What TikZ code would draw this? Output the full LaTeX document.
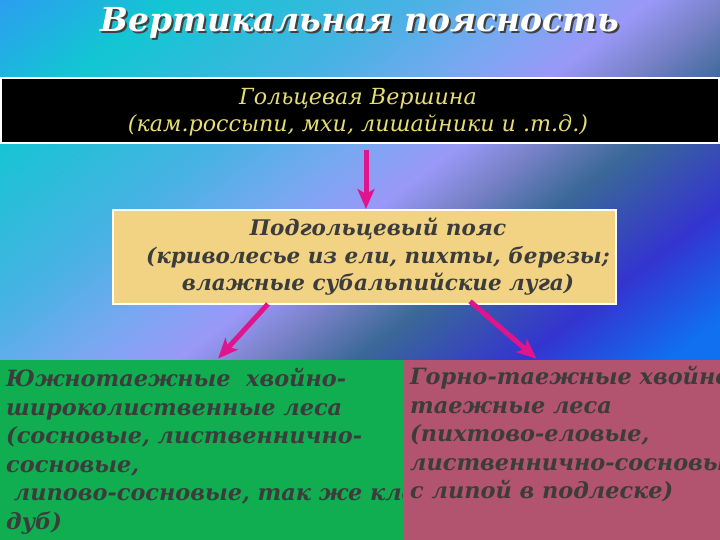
\documentclass[tikz,border=0pt]{standalone}
\usepackage{fontspec}
\setmainfont{DejaVu Serif}
\usetikzlibrary{arrows.meta,calc}
\definecolor{magarrow}{HTML}{E0148C}
\definecolor{tanfill}{HTML}{F2D384}
\definecolor{greenfill}{HTML}{10AE50}
\definecolor{pinkfill}{HTML}{B2536F}
\definecolor{yel}{HTML}{E6DE72}
\definecolor{txtgray}{HTML}{3C3C3C}
\definecolor{bgA}{HTML}{2C9EF0}
\definecolor{bgB}{HTML}{12C6D2}
\definecolor{bgC}{HTML}{48B2E4}
\definecolor{bgD}{HTML}{78A8F0}
\definecolor{bgE}{HTML}{9A98F8}
\definecolor{bgF}{HTML}{7A82C8}
\definecolor{bgG}{HTML}{3A6898}
\definecolor{bgH}{HTML}{3434D0}
\definecolor{bgI}{HTML}{1070F0}
\pgfdeclarehorizontalshading{bgshade}{100bp}{color(0bp)=(bgA); color(25bp)=(bgA); color(31bp)=(bgB); color(39.4bp)=(bgC); color(44bp)=(bgD); color(47.7bp)=(bgE); color(50.4bp)=(bgF); color(53.9bp)=(bgG); color(59.7bp)=(bgH); color(64.9bp)=(bgI); color(100bp)=(bgI)}
\tikzset{
  boxnode/.style={rectangle, inner sep=0pt, outer sep=0pt, anchor=north west},
  titlefont/.style={inner sep=0pt, font=\fontsize{33}{36}\selectfont\bfseries\itshape},
  bodytext/.style={text=txtgray, inner sep=0pt, font=\fontsize{22.4}{28.5}\selectfont\bfseries\itshape},
  flowarrow/.style={draw=magarrow, line width=5pt, -{Stealth[width=17pt,length=20pt,inset=5pt]}}
}
\begin{document}
\begin{tikzpicture}[x=1pt,y=-1pt]
\useasboundingbox (0,0) rectangle (720,540);
\begin{scope}
\clip (0,0) rectangle (720,540);
\begin{scope}[transform canvas={rotate=-52.8}]
\shade[shading=bgshade] (0,-580) rectangle (866,330);
\end{scope}
\end{scope}
% title with drop shadow
\node[titlefont, text=black!75] (titleshadow) at (362,25) {Вертикальная поясность};
\node[titlefont, text=white] (title) at (360,23) {Вертикальная поясность};
% top box
\node[boxnode, fill=black, draw=white, line width=1.5pt, minimum width=718, minimum height=65] (top) at (1,78) {};
\node[inner sep=0pt, text=yel, align=center, font=\fontsize{22.2}{27}\selectfont\itshape] (toptxt) at (358,112) {Гольцевая Вершина\\(кам.россыпи, мхи, лишайники и .т.д.)};
% middle box
\node[boxnode, fill=tanfill, draw=white, line width=1.5pt, minimum width=503, minimum height=94] (mid) at (113,210) {};
\node[bodytext, align=center, font=\fontsize{21.5}{27.5}\selectfont\bfseries\itshape] (midtxt) at (378,257) {Подгольцевый пояс\\(криволесье из ели, пихты, березы;\\влажные субальпийские луга)};
% bottom boxes
\node[boxnode, fill=greenfill, minimum width=403, minimum height=181] (green) at (0,360) {};
\begin{scope}
\clip (0,360) rectangle (403,540);
\node[bodytext, align=left, anchor=north west] (greentxt) at (6,368) {Южнотаежные\ \ хвойно-\\широколиственные леса\\(сосновые, лиственнично-\\сосновые,\\\ липово-сосновые, так же кле\\дуб)};
\end{scope}
\node[boxnode, fill=pinkfill, minimum width=317, minimum height=181] (pink) at (403,360) {};
\begin{scope}
\clip (403,360) rectangle (720,540);
\node[bodytext, align=left, anchor=north west] (pinktxt) at (410,366) {Горно-таежные хвойно\\таежные леса\\(пихтово-еловые,\\лиственнично-сосновые\\с липой в подлеске)};
\end{scope}
% arrows
\draw[flowarrow, shorten <=7pt, shorten >=1pt] (top.south -| 366,0) -- (mid.north -| 366,0);
\draw[flowarrow, shorten >=2pt] ($(mid.south west)!0.308!(mid.south east)$) -- ($(green.north west)!0.538!(green.north east)$);
\draw[flowarrow, shorten <=-4pt, shorten >=2pt] ($(mid.south west)!0.716!(mid.south east)$) -- ($(pink.north west)!0.426!(pink.north east)$);
\end{tikzpicture}
\end{document}
